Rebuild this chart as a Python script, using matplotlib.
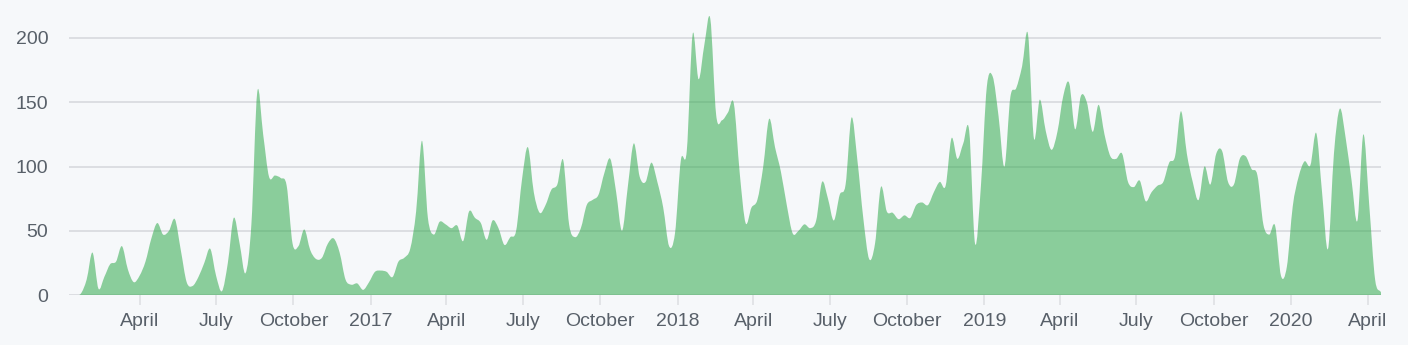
import numpy as np
import pandas as pd
import matplotlib
matplotlib.use("Agg")
import matplotlib.pyplot as plt
import matplotlib.dates as mdates
from matplotlib.path import Path
from matplotlib.patches import PathPatch

# Weekly commit counts
week_start = "2016-01-08"
commits = [
    0, 0, 1, 12, 33, 5, 14, 24, 26, 38,
    20, 10, 15, 26, 44, 56, 47, 50, 59, 35,
    10, 7, 14, 25, 36, 15, 3, 25, 60, 40,
    17, 55, 158, 125, 92, 93, 91, 85, 40, 38,
    51, 35, 28, 29, 40, 44, 33, 12, 8, 9,
    4, 10, 18, 19, 18, 14, 26, 29, 36, 65,
    120, 60, 47, 57, 55, 52, 54, 42, 65, 60,
    56, 43, 58, 52, 39, 45, 50, 90, 115, 80,
    64, 70, 82, 86, 105, 55, 45, 52, 70, 74,
    78, 95, 106, 80, 50, 85, 118, 92, 88, 103,
    88, 68, 38, 48, 105, 112, 203, 168, 195, 215,
    140, 136, 142, 149, 95, 56, 68, 74, 100, 137,
    115, 96, 70, 48, 50, 55, 52, 58, 88, 75,
    58, 78, 86, 138, 105, 60, 28, 40, 84, 65,
    64, 59, 62, 60, 70, 72, 70, 80, 88, 85,
    122, 106, 118, 128, 40, 85, 162, 170, 139, 100,
    154, 161, 178, 203, 122, 152, 128, 113, 127, 155,
    165, 129, 155, 150, 127, 148, 125, 108, 106, 110,
    88, 84, 89, 73, 80, 85, 88, 103, 108, 143,
    110, 88, 74, 100, 86, 110, 112, 88, 86, 106,
    108, 98, 93, 55, 47, 54, 15, 22, 69, 92,
    104, 101, 126, 79, 36, 110, 145, 122, 89, 58,
    125, 70, 12, 2,
]
weeks = pd.date_range(week_start, periods=len(commits), freq="7D")
y_ticks = [0, 50, 100, 150, 200]

BG = "#f6f8fa"
GRID = "#dcdee2"
TEXT = "#586069"
GREEN = "#28a745"


def smooth_area_path(x, y):
    """Catmull-Rom curve through the points as cubic Beziers, closed to y=0."""
    x = np.asarray(x, float)
    y = np.asarray(y, float)
    n = len(x)
    t = np.zeros(n)
    t[1:-1] = (y[2:] - y[:-2]) / (x[2:] - x[:-2])
    t[0] = (y[1] - y[0]) / (x[1] - x[0])
    t[-1] = (y[-1] - y[-2]) / (x[-1] - x[-2])
    verts = [(x[0], 0.0), (x[0], y[0])]
    codes = [Path.MOVETO, Path.LINETO]
    for i in range(n - 1):
        dx = (x[i + 1] - x[i]) / 3
        verts += [(x[i] + dx, y[i] + dx * t[i]),
                  (x[i + 1] - dx, y[i + 1] - dx * t[i + 1]),
                  (x[i + 1], y[i + 1])]
        codes += [Path.CURVE4] * 3
    verts += [(x[-1], 0.0), (x[0], 0.0)]
    codes += [Path.LINETO, Path.CLOSEPOLY]
    return Path(verts, codes)


plt.rcParams["font.family"] = ["Liberation Sans", "DejaVu Sans"]

W, H = 1408, 345
fig = plt.figure(figsize=(W / 100, H / 100), dpi=100, facecolor=BG)
left, right, top, bottom = 69, 1381, 16, 295
ax = fig.add_axes([left / W, 1 - bottom / H, (right - left) / W, (bottom - top) / H])
ax.set_facecolor(BG)

xnum = mdates.date2num(weeks.to_pydatetime())
ax.add_patch(PathPatch(smooth_area_path(xnum, commits), facecolor=GREEN,
                       edgecolor="none", alpha=0.52, zorder=3))

ax.set_xlim(xnum[0], xnum[-1])
ax.set_ylim(0, (bottom - top) / 1.285)

for v in y_ticks:
    ax.axhline(v, color=GRID, lw=1.4, zorder=1)

ax.set_yticks(y_ticks)
ax.tick_params(axis="y", length=0, pad=15, labelsize=14, labelcolor=TEXT)

month_ticks = pd.date_range("2016-04-01", "2020-04-01", freq="QS-JAN")
ax.set_xticks(mdates.date2num(month_ticks.to_pydatetime()))
ax.set_xticklabels([str(d.year) if d.month == 1 else d.strftime("%B") for d in month_ticks])
ax.tick_params(axis="x", length=7.5, width=1.1, color=GRID, pad=5.5,
               labelsize=14, labelcolor=TEXT)

for sp in ax.spines.values():
    sp.set_visible(False)

fig.savefig("out.png", dpi=100, facecolor=BG)
